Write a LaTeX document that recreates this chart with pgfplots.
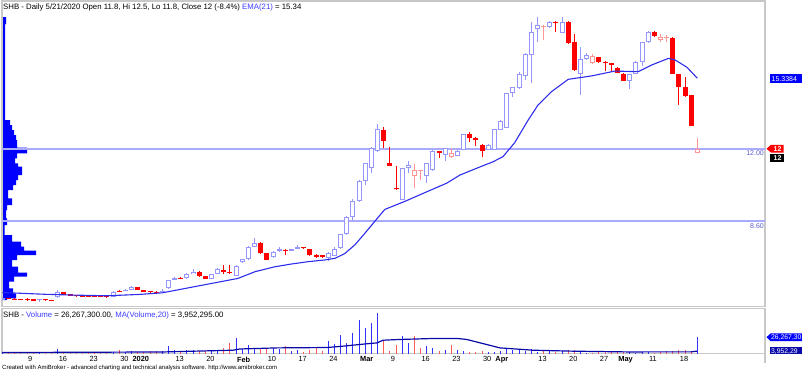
\documentclass[border=0pt]{standalone}
\usepackage{pgfplots}
\pgfplotsset{compat=1.18}
\usepackage{pgfplotstable}
\usepackage{fontspec}
\setmainfont{Liberation Sans}
\definecolor{pblue}{RGB}{150,150,255}
\definecolor{pred}{RGB}{255,150,150}
\definecolor{fred}{RGB}{255,0,0}
\definecolor{emac}{RGB}{45,45,235}
\definecolor{hlinec}{RGB}{170,170,255}
\definecolor{vblue}{RGB}{50,50,255}
\definecolor{vred}{RGB}{255,90,90}
\definecolor{mac}{RGB}{10,10,170}
\definecolor{framec}{RGB}{200,200,200}
\definecolor{lblc}{RGB}{90,90,210}
\definecolor{titleblue}{RGB}{60,60,255}

% hollow blue: i lo hi L H
\pgfplotstableread{
i lo hi L H
0 4.88 4.95 4.86 4.98
6 4.85 4.90 4.80 4.90
9 5.00 5.26 4.98 5.36
18 5.02 5.27 5.00 5.30
20 5.30 5.35 5.28 5.38
21 5.34 5.50 5.33 5.52
26 5.24 5.29 5.23 5.37
27 5.42 5.81 5.40 5.83
28 5.83 5.92 5.80 5.95
30 5.90 6.10 5.88 6.13
31 6.10 6.21 6.08 6.32
34 5.86 6.10 5.84 6.12
35 6.10 6.33 6.08 6.37
38 6.02 6.49 6.00 6.52
39 6.66 6.79 6.60 6.81
40 6.80 7.39 6.78 7.40
41 7.38 7.55 7.35 7.78
44 6.88 7.15 6.85 7.17
45 7.17 7.26 7.15 7.39
47 7.19 7.26 7.17 7.30
48 7.29 7.38 7.27 7.45
53 6.86 7.10 6.70 7.12
54 6.95 7.26 6.93 7.39
55 7.31 7.97 7.29 7.99
56 7.97 8.80 7.95 8.85
57 8.80 9.55 8.62 9.65
58 9.55 10.50 9.50 10.52
59 10.50 11.32 10.30 11.35
60 11.10 12.03 10.85 12.10
61 11.90 12.93 11.85 13.18
65 9.60 11.09 9.58 11.10
66 11.10 11.24 10.85 11.45
69 10.73 11.32 10.41 11.35
70 11.01 11.92 10.98 11.95
72 11.72 12.03 11.45 12.06
74 11.68 11.92 11.65 12.00
75 11.95 12.71 11.93 12.73
79 11.95 12.19 11.93 12.25
80 11.95 12.93 11.93 12.96
81 12.90 13.34 12.88 13.37
82 13.00 14.63 12.98 14.65
83 14.66 14.91 14.44 14.95
84 14.87 15.53 14.85 15.65
85 15.45 16.47 15.26 16.55
86 16.44 17.54 15.10 18.01
87 17.65 17.85 17.07 18.25
89 17.75 18.01 17.70 18.05
91 17.50 18.01 17.48 18.25
94 15.54 16.24 14.55 16.83
95 16.24 16.44 16.20 16.55
102 15.23 15.54 14.82 15.56
103 15.54 16.12 15.52 16.14
104 16.12 17.04 15.90 17.06
105 17.04 17.54 17.00 17.56
}\HB

% hollow red
\pgfplotstableread{
i lo hi L H
67 10.73 11.01 10.14 11.29
68 10.96 11.01 10.54 11.02
73 11.61 11.80 11.58 12.03
88 17.78 17.83 17.15 17.85
96 16.05 16.40 16.03 16.47
107 17.15 17.30 17.05 17.42
108 17.22 17.27 17.05 17.39
113 11.80 12.00 11.80 12.50
}\HR

% filled red
\pgfplotstableread{
i lo hi L H
1 4.92 4.95 4.90 4.97
2 4.89 4.94 4.88 4.95
3 4.87 4.90 4.85 4.92
4 4.86 4.93 4.84 4.95
5 4.84 4.92 4.82 4.94
7 4.85 4.92 4.84 4.93
8 4.83 4.86 4.81 4.87
10 5.13 5.23 5.10 5.27
11 5.07 5.15 5.05 5.16
12 5.06 5.09 5.03 5.11
13 5.05 5.08 5.02 5.10
14 5.04 5.07 5.02 5.09
15 5.03 5.06 5.01 5.08
16 5.02 5.05 5.00 5.07
17 5.00 5.08 4.98 5.09
19 5.26 5.30 5.24 5.35
22 5.34 5.49 5.32 5.50
23 5.27 5.33 5.24 5.35
24 5.25 5.28 5.22 5.31
25 5.24 5.27 5.21 5.30
29 5.90 5.93 5.87 5.95
32 6.00 6.19 5.98 6.22
33 5.88 6.00 5.86 6.02
36 6.17 6.27 6.12 6.54
37 6.15 6.18 6.12 6.50
42 7.08 7.58 7.05 7.62
43 6.76 7.08 6.74 7.10
46 7.19 7.25 7.00 7.28
49 7.32 7.35 7.30 7.37
50 6.98 7.26 6.96 7.30
51 6.89 6.99 6.87 7.02
52 6.88 6.98 6.86 7.00
62 12.39 12.90 12.03 13.02
63 11.22 11.32 11.20 12.11
64 10.10 10.15 10.08 11.20
71 11.80 11.90 11.56 11.92
76 12.50 12.71 12.34 12.82
77 12.42 12.52 12.16 12.55
78 11.91 12.19 11.64 12.22
90 17.94 18.01 17.54 18.03
92 16.99 18.01 16.97 18.03
93 15.73 17.07 15.70 17.43
97 16.12 16.33 16.05 16.35
98 16.05 16.12 15.68 16.14
99 15.95 16.05 15.65 16.07
100 15.60 15.84 15.58 15.86
101 15.23 15.54 15.20 15.58
106 17.34 17.54 17.30 17.56
109 15.54 17.26 15.52 17.30
110 14.91 15.54 14.08 15.56
111 14.50 14.91 14.47 15.38
112 13.10 14.55 13.07 14.57
}\FR

% volume (millions), up days
\pgfplotstableread{
i v
0 2.5
6 1.6
9 6.6
18 2.5
20 2.0
21 3.8
26 3.8
27 12.0
28 5.4
30 5.4
31 5.4
34 5.4
35 5.4
38 26.2
39 6.6
40 13.6
41 8.2
44 8.2
45 6.6
47 4.4
48 5.4
53 20.2
54 14.8
55 30.0
56 17.5
57 33.8
58 54.6
59 42.6
60 50.2
61 66.6
65 28.4
66 16.4
69 12.0
70 8.2
72 5.4
74 6.2
75 3.8
79 2.8
80 2.8
81 4.4
82 9.8
83 5.4
84 5.4
85 4.4
86 6.6
87 2.8
89 3.8
91 4.4
94 2.8
95 1.1
102 2.8
103 1.6
104 2.8
105 2.1
113 26.27
}\VolUp

% volume (millions), down days
\pgfplotstableread{
i v
1 2.5
2 2.0
3 1.6
4 2.0
5 2.0
7 1.6
8 1.6
10 2.5
11 2.5
12 2.0
13 1.6
14 1.6
15 1.6
16 2.0
17 2.5
19 5.4
22 2.5
23 2.5
24 3.8
25 3.8
29 4.4
32 4.4
33 4.4
36 8.2
37 18.0
42 8.2
43 8.2
46 12.0
49 2.8
50 5.4
51 8.2
52 4.4
62 21.8
63 4.1
64 13.6
67 28.4
68 8.2
71 3.8
73 13.6
76 2.8
77 2.8
78 3.8
88 4.4
90 2.1
92 5.4
93 5.4
96 1.6
97 2.8
98 2.8
99 2.8
100 2.1
101 2.8
106 1.6
107 2.8
108 3.3
109 3.8
110 5.4
111 5.4
112 4.4
}\VolDown

\newcommand{\wicks}[2]{%
\addplot[draw=none, mark=none, forget plot, error bars/.cd, y dir=plus, y explicit, error mark=none,
  error bar style={draw=#2, line width=1pt}]
  table[x=i, y=L, y error expr=\thisrow{H}-\thisrow{L}] {#1};}
\newcommand{\bodies}[2]{%
\addplot[draw=none, mark=none, forget plot, error bars/.cd, y dir=plus, y explicit, error mark=none,
  error bar style={draw=#2, line width=5pt}]
  table[x=i, y=lo, y error expr=\thisrow{hi}-\thisrow{lo}] {#1};}
\newcommand{\hollow}[1]{%
\addplot[draw=none, mark=none, forget plot, error bars/.cd, y dir=plus, y explicit, error mark=none,
  error bar style={draw=white, line width=3pt}]
  table[x=i, y expr=\thisrow{lo}+0.047, y error expr={max(\thisrow{hi}-\thisrow{lo}-0.094,0)}] {#1};}

\begin{document}
\begin{tikzpicture}[x=1pt,y=1pt]
\useasboundingbox (0,0) rectangle (802,-371);

% volume-at-price histogram (pixel coordinates)
\begin{axis}[at={(0pt,0pt)}, anchor=north west, scale only axis, width=802pt, height=371pt,
  xmin=0, xmax=802, ymin=0, ymax=371, y dir=reverse, hide axis, clip=false]
\addplot[fill=blue, draw=none] coordinates {
(3,17) (6,17) (6,24) (5,24) (5,120) (10,120) (10,125) (12,125) (12,130) (14,130) (14,135)
(16,135) (16,140) (17,140) (17,147.7) (27,147.7) (27,153.3) (17,153.3) (17,158.3) (15,158.3)
(15,163.3) (18,163.3) (18,166.7) (22,166.7) (22,175) (18,175) (18,180) (16,180) (16,185)
(13,185) (13,190) (8,190) (8,198.3) (12,198.3) (12,205) (7,205) (7,210) (6,210) (6,218.3)
(7,218.3) (7,225) (4.5,225) (4.5,235) (12,235) (12,241.7) (21,241.7) (21,246.7) (24,246.7)
(24,250.7) (36,250.7) (36,255) (17,255) (17,260) (12,260) (12,266.7) (18,266.7) (18,272.7)
(27,272.7) (27,276.7) (14,276.7) (14,281.7) (9,281.7) (9,288.3) (13,288.3) (13,293.3)
(16,293.3) (16,298.3) (7,298.3) (7,300) (3,300)};
\end{axis}

% price pane
\begin{axis}[at={(2pt,-1pt)}, anchor=north west, scale only axis, width=763pt, height=305.5pt,
  xmin=-0.065, xmax=124.0, ymin=4.564, ymax=18.988,
  axis line style={draw=framec, line width=1.2pt}, ticks=none, clip=true]
\addplot[hlinec, line width=1.6pt, forget plot] coordinates {(-1,12) (125,12)};
\addplot[hlinec, line width=1.6pt, forget plot] coordinates {(-1,8.6) (125,8.6)};
\wicks{\HB}{pblue}
\bodies{\HB}{pblue}
\hollow{\HB}
\wicks{\HR}{pred}
\bodies{\HR}{pred}
\hollow{\HR}
\wicks{\FR}{fred}
\bodies{\FR}{fred}
\addplot[emac, line width=1.1pt, mark=none] coordinates {
(0,5.22) (2,5.20) (7,5.14) (12,5.10) (17,5.07) (22,5.13) (26,5.21) (38.3,5.89) (41.1,6.21)
(44.3,6.44) (47,6.57) (49.7,6.68) (52.4,6.76) (54.1,6.84) (55.7,7.07) (57.3,7.47) (58.7,7.94)
(61.4,8.88) (62.2,9.15) (65.7,9.56) (69,9.98) (72.2,10.38) (74.4,10.77) (77.7,11.16)
(79.8,11.40) (81.4,11.64) (83.3,12.30) (85.5,13.37) (87.1,14.08) (89.3,14.71) (92,15.29)
(95.8,15.45) (99.6,15.68) (103.4,15.65) (105.6,15.97) (108.3,16.28) (109.4,16.20)
(111.3,15.86) (113,15.34)};
\end{axis}

% volume pane
\begin{axis}[at={(2pt,-308.6pt)}, anchor=north west, scale only axis, width=763pt, height=44.9pt,
  xmin=-0.065, xmax=124.0, ymin=0, ymax=73.6,
  axis line style={draw=framec, line width=1.2pt}, ytick=\empty,
  xtick={4,9,14,19,21,28,33,38,43,48,53,58,63,68,73,78,80,87,92,97,100,105,110},
  xticklabels={9,16,23,30,\textbf{2020},13,20,\textbf{Feb},10,17,24,\textbf{Mar},9,16,23,30,\textbf{Apr},13,20,27,\textbf{May},11,18},
  major tick length=0pt,
  xticklabel style={font=\fontsize{7.4}{8}\selectfont, anchor=north west, inner sep=0pt, xshift=0.8pt, yshift=-3pt},
  clip=true]
\addplot[ycomb, vblue, line width=1pt, mark=none] table[x=i, y=v] {\VolUp};
\addplot[ycomb, vred, line width=1pt, mark=none] table[x=i, y=v] {\VolDown};
\addplot[mac, line width=1.2pt, mark=none] coordinates {
(0,1.6) (26,2.5) (37.5,5.4) (38.6,7.4) (44.7,9.2) (52.8,9.8) (55.7,12.3) (58.1,14.8)
(60.9,17.4) (61.9,21.8) (64.6,23.0) (70,24.6) (74,24.6) (75.5,23.0) (80.9,9.2) (86.3,5.4)
(92.8,3.8) (101.6,2.6) (112,2.7) (113,3.95)};
\end{axis}

\draw[framec, line width=1.2pt] (765,-353.5) -- (765,-363);

% texts
\node[anchor=base west, inner sep=0pt, font=\fontsize{7.8}{9}\selectfont] at (3,-9.3)
  {SHB - Daily 5/21/2020 Open 11.8, Hi 12.5, Lo 11.8, Close 12 (-8.4\%) \textcolor{titleblue}{EMA(21)} = 15.34};
\node[anchor=base west, inner sep=0pt, font=\fontsize{7.8}{9}\selectfont] at (3,-317.6)
  {SHB - \textcolor{titleblue}{Volume} = 26,267,300.00, \textcolor{titleblue}{MA(Volume,20)} = 3,952,295.00};
\node[anchor=base west, inner sep=0pt, font=\fontsize{6}{7}\selectfont] at (2,-369.3)
  {Created with AmiBroker - advanced charting and technical analysis software. http://www.amibroker.com};

\node[anchor=base east, inner sep=0pt, text=lblc, font=\fontsize{7}{8}\selectfont] at (764,-156) {12.00};
\node[anchor=base east, inner sep=0pt, text=lblc, font=\fontsize{7}{8}\selectfont] at (764,-228.3) {8.60};

\fill[blue] (770,-74.5) rectangle (802,-83);
\node[anchor=base west, inner sep=0pt, text=white, font=\fontsize{7}{8}\selectfont] at (771.5,-81.6) {15.3384};

\fill[red] (766.5,-148.7) -- (771,-144.8) -- (783.5,-144.8) -- (783.5,-152.6) -- (771,-152.6) -- cycle;
\node[anchor=base west, inner sep=0pt, text=white, font=\bfseries\fontsize{7}{8}\selectfont] at (773.5,-151.4) {12};
\fill[black] (770,-154.3) rectangle (783.5,-162.3);
\node[anchor=base west, inner sep=0pt, text=white, font=\bfseries\fontsize{7}{8}\selectfont] at (773.5,-161) {12};

\fill[blue] (766.5,-337.2) -- (770.5,-333.3) -- (802,-333.3) -- (802,-341.1) -- (770.5,-341.1) -- cycle;
\node[anchor=base west, inner sep=0pt, text=white, font=\fontsize{6.8}{8}\selectfont] at (771,-339.9) {26,267,30};
\fill[mac] (770,-346.7) rectangle (802,-354.2);
\node[anchor=base west, inner sep=0pt, text=white, font=\fontsize{6.8}{8}\selectfont] at (771,-353.1) {3,952,29};
\end{tikzpicture}
\end{document}
